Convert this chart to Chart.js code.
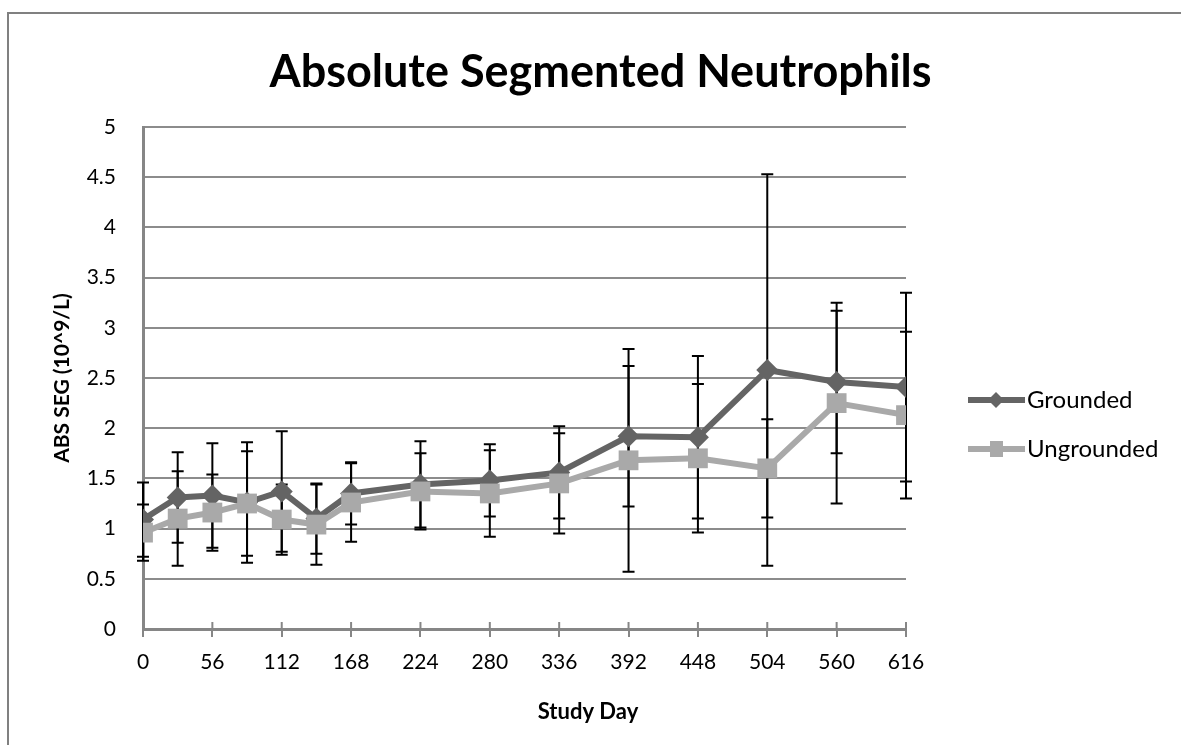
<!DOCTYPE html>
<html>
<head>
<meta charset="utf-8">
<script src="https://cdn.jsdelivr.net/npm/chart.js@4"></script>
<style>
  html, body { margin: 0; padding: 0; background: #fff; }
  #wrap { position: relative; width: 1181px; height: 745px; }
</style>
</head>
<body>
<div id="wrap"><canvas id="chart"></canvas></div>
<script>
// study days and the readings per group (mean and error)
const DAYS = [0, 28, 56, 84, 112, 140, 168, 224, 280, 336, 392, 448, 504, 560, 616];
const X_TICKS = [0, 56, 112, 168, 224, 280, 336, 392, 448, 504, 560, 616];

const GROUNDED =     [1.09, 1.31, 1.33, 1.26, 1.37, 1.10, 1.35, 1.44, 1.48, 1.56, 1.92, 1.91, 2.58, 2.46, 2.41];
const GROUNDED_ERR = [0.37, 0.45, 0.52, 0.60, 0.60, 0.35, 0.31, 0.43, 0.36, 0.46, 0.70, 0.81, 1.95, 0.71, 0.94];

const UNGROUNDED =     [0.96, 1.10, 1.16, 1.25, 1.09, 1.04, 1.26, 1.37, 1.35, 1.45, 1.68, 1.70, 1.60, 2.25, 2.13];
const UNGROUNDED_ERR = [0.28, 0.47, 0.38, 0.52, 0.35, 0.40, 0.39, 0.38, 0.43, 0.50, 1.11, 0.74, 0.49, 1.00, 0.83];

const FONT = 'Lato, "Open Sans", sans-serif';
const AXIS_GREY = '#868686';

const toPoints = vals => DAYS.map((d, i) => ({ x: d, y: vals[i] }));

// outer frame, only top and left edges show in the picture
const frame = {
    id: 'frame',
    beforeDraw(chart) {
        const { ctx, width, height } = chart;
        ctx.save();
        ctx.strokeStyle = '#808080';
        ctx.lineWidth = 2;
        ctx.beginPath();
        ctx.moveTo(8, height);
        ctx.lineTo(8, 13);
        ctx.lineTo(width, 13);
        ctx.stroke();
        ctx.restore();
    }
};

// vertical error bars with caps, drawn under the markers
const errorBars = {
    id: 'errorBars',
    beforeDatasetsDraw(chart) {
        const { ctx, scales: { x, y } } = chart;
        ctx.save();
        ctx.strokeStyle = '#000';
        ctx.lineWidth = 2;
        chart.data.datasets.forEach(ds => {
            ds.errors.forEach((e, i) => {
                const v = ds.data[i].y;
                const px = x.getPixelForValue(ds.data[i].x);
                const top = y.getPixelForValue(v + e);
                const bot = y.getPixelForValue(v - e);
                ctx.beginPath();
                ctx.moveTo(px, top);
                ctx.lineTo(px, bot);
                ctx.moveTo(px - 6, top);
                ctx.lineTo(px + 6, top);
                ctx.moveTo(px - 6, bot);
                ctx.lineTo(px + 6, bot);
                ctx.stroke();
            });
        });
        ctx.restore();
    }
};

// tick marks cross the x axis, plus axis title and legend
const extras = {
    id: 'extras',
    afterDraw(chart) {
        const { ctx, scales: { x }, chartArea } = chart;
        ctx.save();
        ctx.strokeStyle = AXIS_GREY;
        ctx.lineWidth = 2;
        x.ticks.forEach(t => {
            const px = x.getPixelForValue(t.value);
            ctx.beginPath();
            ctx.moveTo(px, chartArea.bottom - 7);
            ctx.lineTo(px, chartArea.bottom);
            ctx.stroke();
        });

        ctx.fillStyle = '#000';
        ctx.font = 'bold 22px ' + FONT;
        ctx.textAlign = 'center';
        ctx.textBaseline = 'middle';
        ctx.fillText('Study Day', 588, 712);

        // legend
        const rows = [{ ds: chart.data.datasets[0], y: 400 }, { ds: chart.data.datasets[1], y: 449 }];
        rows.forEach(({ ds, y }) => {
            ctx.strokeStyle = ds.borderColor;
            ctx.lineWidth = 6;
            ctx.beginPath();
            ctx.moveTo(968, y);
            ctx.lineTo(1025, y);
            ctx.stroke();
            ctx.fillStyle = ds.borderColor;
            if (ds.pointStyle === 'rectRot') {
                ctx.beginPath();
                ctx.moveTo(996, y - 8);
                ctx.lineTo(1004, y);
                ctx.lineTo(996, y + 8);
                ctx.lineTo(988, y);
                ctx.closePath();
                ctx.fill();
            } else {
                ctx.fillRect(990, y - 8, 13, 16);
            }
            ctx.fillStyle = '#000';
            ctx.font = '24px ' + FONT;
            ctx.textAlign = 'left';
            ctx.fillText(ds.label, 1027, y);
        });
        ctx.restore();
    }
};

new Chart(document.getElementById('chart'), {
    type: 'line',
    data: {
        datasets: [
            {
                label: 'Grounded',
                data: toPoints(GROUNDED),
                errors: GROUNDED_ERR,
                borderColor: '#646464',
                backgroundColor: '#646464',
                borderWidth: 6,
                pointStyle: 'rectRot',
                pointRadius: 11,
                pointBorderWidth: 0,
                order: 1
            },
            {
                label: 'Ungrounded',
                data: toPoints(UNGROUNDED),
                errors: UNGROUNDED_ERR,
                borderColor: '#a9a9a9',
                backgroundColor: '#a9a9a9',
                borderWidth: 6,
                pointStyle: 'rect',
                pointRadius: 14,
                pointBorderWidth: 0,
                order: 0
            }
        ]
    },
    options: {
        responsive: true,
        maintainAspectRatio: false,
        animation: false,
        events: [],
        layout: { padding: { left: 46, right: 26, top: 0, bottom: 0 } },
        plugins: {
            legend: { display: false },
            tooltip: { enabled: false },
            title: {
                display: true,
                text: 'Absolute Segmented Neutrophils',
                color: '#000',
                font: { family: FONT, size: 45, weight: 'bold' },
                padding: { top: 45, bottom: 28 }
            }
        },
        scales: {
            x: {
                type: 'linear',
                min: 0,
                max: 616,
                afterBuildTicks: s => { s.ticks = X_TICKS.map(v => ({ value: v })); },
                afterFit: s => { s.height = 116; },
                grid: { drawOnChartArea: false, color: AXIS_GREY, lineWidth: 2, tickLength: 8 },
                border: { color: AXIS_GREY, width: 3 },
                ticks: { color: '#000', font: { family: FONT, size: 21 }, padding: 13, maxRotation: 0, autoSkip: false }
            },
            y: {
                min: 0,
                max: 5,
                ticks: {
                    stepSize: 0.5,
                    color: '#000',
                    font: { family: FONT, size: 21 },
                    padding: 27,
                    callback: v => String(Math.round(v * 10) / 10)
                },
                afterFit: s => { s.width = 97; },
                grid: { color: '#8c8c8c', lineWidth: 2, drawTicks: false },
                border: { color: AXIS_GREY, width: 3 },
                title: {
                    display: true,
                    text: 'ABS SEG (10^9/L)',
                    color: '#000',
                    font: { family: FONT, size: 21, weight: 'bold' }
                }
            },
            // empty right-hand axis that only keeps room for the legend
            legendSpace: {
                type: 'linear',
                position: 'right',
                min: 0,
                max: 5,
                grid: { display: false },
                border: { display: false },
                ticks: { display: false },
                afterFit: s => { s.width = 249; }
            }
        }
    },
    plugins: [frame, errorBars, extras]
});
</script>
</body>
</html>
